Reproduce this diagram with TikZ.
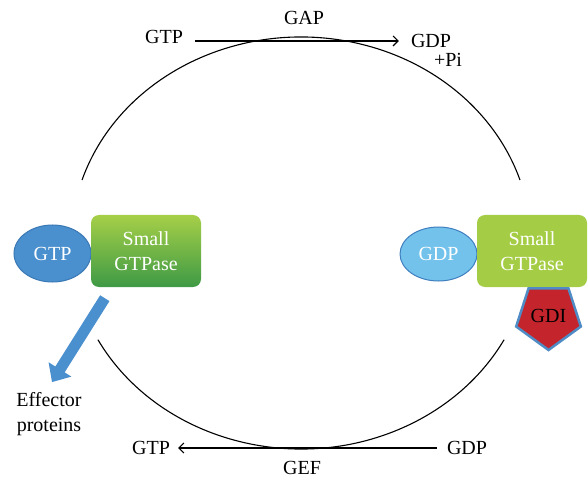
\documentclass[tikz,border=0pt]{standalone}
\usepackage{fontspec}
\setmainfont{Liberation Serif}
\usetikzlibrary{shapes.geometric,arrows.meta,positioning}
\definecolor{gtpfill}{HTML}{4A8FCE}
\definecolor{gtpline}{HTML}{3A78B4}
\definecolor{gdpfill}{HTML}{72C2EC}
\definecolor{gdpline}{HTML}{3F7EBF}
\definecolor{boxtop}{HTML}{A6CF48}
\definecolor{boxmid}{HTML}{6CB547}
\definecolor{boxbot}{HTML}{3E9A45}
\definecolor{boxflat}{HTML}{A4CD45}
\definecolor{gdifill}{HTML}{C4242B}
\definecolor{gdiline}{HTML}{4F8CC6}

\begin{document}
\begin{tikzpicture}[x=1pt,y=-1pt,font=\fontsize{20}{25}\selectfont,
  lbl/.style={inner sep=0pt},
  cyc/.style={line width=1.1pt},
  flow/.style={line width=1.1pt,-{Straight Barb[length=5pt,width=10pt]}},
  nuc/.style n args={3}{ellipse,draw=#2,fill=#1,line width=1pt,text=white,minimum width=77pt,minimum height=#3,inner sep=0pt},
  gbox/.style={rectangle,rounded corners=8pt,minimum width=110pt,minimum height=72pt,text=white,align=center,inner sep=0pt},
  effarr/.style={draw=gtpfill,line width=11pt,-{Triangle[length=15pt,width=26pt]}}]
\useasboundingbox (0,0) rectangle (588,478);
% cycle
\coordinate (c) at (301,243);
\draw[cyc] (c) ++(-162.2:230 and 206) arc[start angle=-162.2,end angle=-17.8,x radius=230,y radius=206];
\draw[cyc] (c) ++(152:230 and 206) arc[start angle=152,end angle=28,x radius=230,y radius=206];
% active side
\node[nuc={gtpfill}{gtpline}{57pt}] (gtpL) at (52.5,253.5) {GTP};
\node[gbox,top color=boxtop,middle color=boxmid,bottom color=boxbot] (gL) at (146,251) {Small\\GTPase};
% inactive side
\node[nuc={gdpfill}{gdpline}{54pt}] (gdpR) at (438.5,254) {GDP};
\node[gbox,fill=boxflat] (gR) at (532,251) {Small\\GTPase};
\node[regular polygon,regular polygon sides=5,shape border rotate=180,minimum size=68pt,
  fill=gdifill,draw=gdiline,line width=2.5pt,inner sep=0pt] (gdi) at (548.5,316) {\raisebox{-4pt}{GDI}};
% top reaction
\node[lbl] (gtpT) at (164,37) {GTP};
\node[lbl] (gdpT) at (431,41) {GDP};
\node[lbl] (pi) at (448,60) {+Pi};
\node[lbl] (gap) at (304,18) {GAP};
\draw[flow] (gtpT.east |- gdpT.west) ++(12pt,0) -- ([xshift=-12pt]gdpT.west);
% bottom reaction
\node[lbl] (gtpB) at (151,448) {GTP};
\node[lbl] (gdpB) at (467,448) {GDP};
\node[lbl] (gef) at (302,468) {GEF};
\draw[flow] ([xshift=-10pt]gdpB.west) -- ([xshift=8pt]gtpB.east);
% effectors
\node[lbl,align=center] (eff) at (49,414) {Effector\\proteins};
\draw[effarr] ([shift={(14pt,-11pt)}]gL.south west) -- ([shift={(3pt,10pt)}]eff.north);
\end{tikzpicture}
\end{document}
